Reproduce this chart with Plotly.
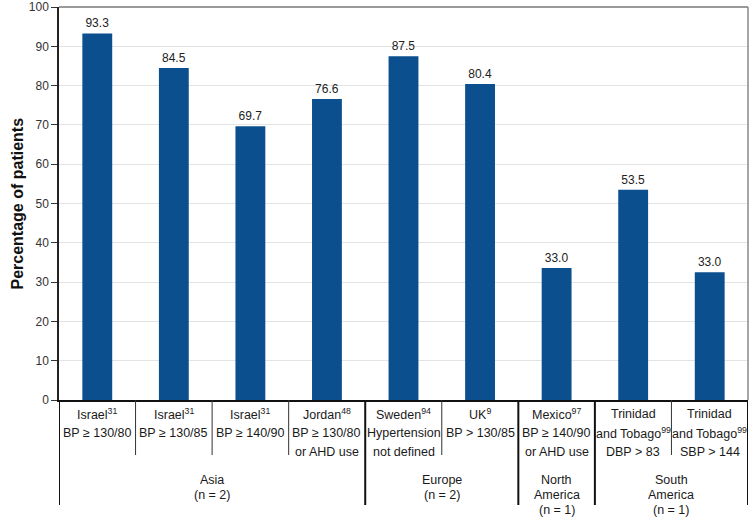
import plotly.graph_objects as go

# ---- data ----
categories = ["Israel 1", "Israel 2", "Israel 3", "Jordan", "Sweden", "UK", "Mexico", "Trinidad 1", "Trinidad 2"]
bar_heights = [93.3, 84.5, 69.7, 76.6, 87.5, 80.4, 33.6, 53.5, 32.5]
value_labels = ["93.3", "84.5", "69.7", "76.6", "87.5", "80.4", "33.0", "53.5", "33.0"]
label_lines = [
    ["Israel<sup>31</sup>", "BP ≥ 130/80"],
    ["Israel<sup>31</sup>", "BP ≥ 130/85"],
    ["Israel<sup>31</sup>", "BP ≥ 140/90"],
    ["Jordan<sup>48</sup>", "BP ≥ 130/80", "or AHD use"],
    ["Sweden<sup>94</sup>", "Hypertension", "not defined"],
    ["UK<sup>9</sup>", "BP > 130/85"],
    ["Mexico<sup>97</sup>", "BP ≥ 140/90", "or AHD use"],
    ["Trinidad", "and Tobago<sup>99</sup>", "DBP > 83"],
    ["Trinidad", "and Tobago<sup>99</sup>", "SBP > 144"],
]
groups = [
    (["Asia", "(n = 2)"], 0, 3),
    (["Europe", "(n = 2)"], 4, 5),
    (["North", "America", "(n = 1)"], 6, 6),
    (["South", "America", "(n = 1)"], 7, 8),
]
y_ticks = [0, 10, 20, 30, 40, 50, 60, 70, 80, 90, 100]

# ---- layout geometry ----
W, H = 749, 517
ML, MR, MT, MB = 59, 1, 7, 117
PH = H - MT - MB
x_pos = list(range(len(categories)))


def py2paper(py):
    return (H - MB - py) / PH


fig = go.Figure()
fig.add_trace(go.Bar(
    x=x_pos, y=bar_heights, width=0.39,
    marker=dict(color="#0b4f8e", line=dict(width=0)),
    text=value_labels, textposition="outside", cliponaxis=False,
    textfont=dict(family="Liberation Sans, Arial", size=12, color="#222"),
    hoverinfo="skip",
))

annotations = []
FONT = dict(family="Liberation Sans, Arial", size=12.5, color="#1a1a1a")
for i, lines in enumerate(label_lines):
    for j, ln in enumerate(lines):
        annotations.append(dict(
            x=i, y=py2paper(414 + 19 * j), xref="x", yref="paper",
            text=ln, showarrow=False, xanchor="center", yanchor="middle",
            font=FONT,
        ))
for lines, a, b in groups:
    for j, ln in enumerate(lines):
        annotations.append(dict(
            x=(a + b) / 2, y=py2paper(480 + 15 * j), xref="x", yref="paper",
            text=ln, showarrow=False, xanchor="center", yanchor="middle",
            font=FONT,
        ))
annotations.append(dict(
    x=-42 / (W - ML - MR), y=0.5, xref="paper", yref="paper",
    text="<b>Percentage of patients</b>", textangle=-90, showarrow=False,
    xanchor="center", yanchor="middle",
    font=dict(family="Liberation Sans, Arial", size=16, color="#111"),
))

shapes = []
group_edges = {-0.5}
for _, a, b in groups:
    group_edges.add(b + 0.5)
for k in range(len(categories) + 1):
    xb = k - 0.5
    if xb in group_edges:
        shapes.append(dict(type="line", xref="x", yref="paper", x0=xb, x1=xb,
                           y0=0, y1=py2paper(505), line=dict(color="#111", width=2)))
    else:
        shapes.append(dict(type="line", xref="x", yref="paper", x0=xb, x1=xb,
                           y0=0, y1=py2paper(455), line=dict(color="#333", width=1)))
# top and right frame
shapes.append(dict(type="line", xref="paper", yref="paper", x0=0, x1=1, y0=1, y1=1,
                   line=dict(color="#777", width=1.5)))
shapes.append(dict(type="line", xref="paper", yref="paper", x0=1, x1=1, y0=0, y1=1,
                   line=dict(color="#888", width=1.5)))

fig.update_layout(
    width=W, height=H,
    margin=dict(l=ML, r=MR, t=MT, b=MB),
    plot_bgcolor="white", paper_bgcolor="white",
    showlegend=False,
    annotations=annotations, shapes=shapes,
    xaxis=dict(range=[-0.5, len(categories) - 0.5], showticklabels=False, ticks="",
               showgrid=False, zeroline=False, showline=True, linecolor="#111", linewidth=1.5),
    yaxis=dict(range=[0, 100.02], tickvals=y_ticks, ticks="outside", ticklen=6,
               tickcolor="#333", showline=True, linecolor="#222", linewidth=1.5,
               gridcolor="#e3e3e3", gridwidth=1, zeroline=False,
               tickfont=dict(family="Liberation Sans, Arial", size=12, color="#333")),
)

fig.write_html("out.html", config={"displayModeBar": False},
               post_script="document.body.style.margin='0';document.body.style.padding='0';")
